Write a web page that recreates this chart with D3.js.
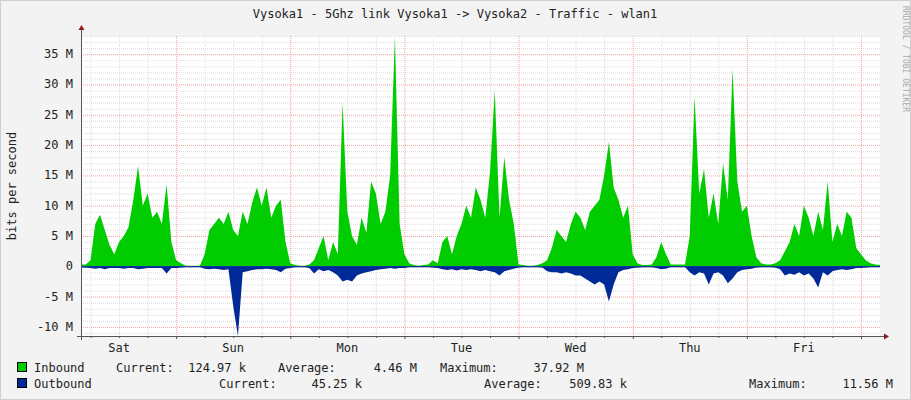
<!DOCTYPE html>
<html><head><meta charset="utf-8">
<script src="https://cdn.jsdelivr.net/npm/d3@7"></script>
<style>body{margin:0;background:#f3f3f3}svg{display:block}</style>
</head><body><svg id="c" width="911" height="400"></svg>
<script>
// hourly values in M bits/s, starting Sat 04:00
const startHour = 4;
const inbound = [
0.3,0.3,1,7,8.5,6,3.5,2,4,5,6.5,11,16.5,10,12,8,9,7,13.5,4,
1,0.5,0.1,0.1,0.1,0.1,2,6,7,8,7,9,6,5,9,7,10.5,13,10,13,8,10,11,4,
0.5,0.2,0.1,0.1,0.3,1,3,5,1,4,2,27,9,5,3.5,8,5.5,14,12,7,9,15,37.9,7,
2,0.5,0.2,0.1,0.2,0.3,1,0.5,4,5,2,5,7,10,8,13,11,8,15.5,29,8,18,11,7,
0.3,0.2,0.1,0.1,0.2,0.5,1,3,6,5,4,7,9,8,6,9,10,11,15,20.5,13,11,8,10,
2,0.5,0.2,0.2,0.3,1.5,4,2,0.3,0.3,0.3,0.3,5,28,12,16,8,12,7,17,11,32.5,14,9,
10,5,1.5,0.5,0.3,0.3,0.5,1,2.5,4,7,5,10,8,5,9,6,14,4,7,5,9,8,3,
2,1,0.5,0.3,0.2];
const outbound = [
0.2,0.2,0.3,0.4,0.3,0.5,0.3,0.3,0.3,0.4,0.3,0.3,0.5,0.4,0.3,0.3,0.3,0.3,1.2,0.3,
0.3,0.2,0.1,0.1,0.1,0.1,0.4,0.5,0.4,0.5,0.6,0.5,6.5,11.5,1,0.8,0.6,0.5,0.5,0.4,0.5,0.6,1,0.4,
0.3,0.1,0.1,0.1,0.3,1.2,0.5,0.8,0.6,1,1.5,2.5,2.2,2.5,1.5,1.2,1,0.8,0.6,0.5,0.4,0.3,0.4,0.3,
0.3,0.1,0.1,0.1,0.1,0.1,0.2,0.3,0.5,0.6,0.5,0.7,0.5,0.6,0.5,0.6,0.8,0.6,0.8,1,1.5,0.8,0.6,0.4,
0.2,0.1,0.1,0.1,0.1,0.2,0.8,1,1,1.2,1,1.2,1.5,1.5,2,2.5,3,2.5,3,5.8,3,1,0.6,0.5,
0.3,0.2,0.1,0.1,0.1,0.3,0.5,0.4,0.1,0.1,0.1,0.1,1,1.5,1,1.2,3,1.2,1,1.5,2.8,2,1,0.6,
0.5,0.4,0.2,0.1,0.1,0.1,0.2,0.5,1.5,1.2,1.4,1,1.5,1.2,2,3.5,1,1.5,0.8,0.6,0.5,0.6,0.5,0.3,
0.3,0.2,0.1,0.1,0.1];
const yTicks = [-10,-5,0,5,10,15,20,25,30,35];
const dayLabels = ["Sat","Sun","Mon","Tue","Wed","Thu","Fri"];
const legendNames = ["Inbound","Outbound"];
const legendColors = ["#00cc00","#002a97"];
const legendCurrent = ["124.97 k","45.25 k"];
const legendAverage = ["4.46 M","509.83 k"];
const legendMaximum = ["37.92 M","11.56 M"];

const svg = d3.select("#c");
const F = "DejaVu Sans Mono, monospace";
svg.append("rect").attr("x",0.5).attr("y",0.5).attr("width",910).attr("height",399).attr("fill","#f3f3f3").attr("stroke","#cfcfcf");
const x = d3.scaleLinear().domain([startHour, startHour+inbound.length-1]).range([81,880]);
const y = d3.scaleLinear().domain([-11.5,38]).range([336,36]);
const L=81,R=880,T=36,B=336;
svg.append("rect").attr("x",L).attr("y",T).attr("width",R-L).attr("height",B-T).attr("fill","#fff");
const g = svg.append("g");
d3.range(-11,39).forEach(v=>{ if(v%5) g.append("line").attr("x1",L).attr("x2",R).attr("y1",y(v)+0.5).attr("y2",y(v)+0.5).attr("stroke","#ddd").attr("stroke-dasharray","1,1");});
d3.range(6,172,6).forEach(h=>{ if(h<startHour||h%24===0) return; g.append("line").attr("x1",x(h)+0.5).attr("x2",x(h)+0.5).attr("y1",T).attr("y2",B).attr("stroke","#ddd").attr("stroke-dasharray","1,1");});
d3.range(24,172,24).forEach(h=>g.append("line").attr("x1",x(h)+0.5).attr("x2",x(h)+0.5).attr("y1",T).attr("y2",B).attr("stroke","#f4a0a0").attr("stroke-dasharray","1,1"));
yTicks.forEach(v=>{ g.append("line").attr("x1",L).attr("x2",R).attr("y1",y(v)+0.5).attr("y2",y(v)+0.5).attr("stroke","#f4a0a0").attr("stroke-dasharray","1,1");
  svg.append("text").attr("x",73).attr("y",y(v)+4).attr("text-anchor","end").attr("font-family",F).attr("font-size",12).attr("fill","#222").text(v===0?"0":v+" M");});
const idx = inbound.map((d,i)=>i);
svg.append("path").datum(idx).attr("fill","#00cc00").attr("d",d3.area().x(i=>x(startHour+i)).y0(y(0)).y1(i=>y(inbound[i])));
svg.append("path").datum(idx).attr("fill","#002a97").attr("d",d3.area().x(i=>x(startHour+i)).y0(y(0)).y1(i=>y(-outbound[i])));
svg.append("line").attr("x1",L).attr("x2",R).attr("y1",y(0)+0.5).attr("y2",y(0)+0.5).attr("stroke","#002a97");
svg.append("line").attr("x1",L+0.5).attr("x2",L+0.5).attr("y1",B+4).attr("y2",T-6).attr("stroke","#555");
svg.append("line").attr("x1",L-4).attr("x2",R+4).attr("y1",B+0.5).attr("y2",B+0.5).attr("stroke","#555");
svg.append("path").attr("d",`M${L-2.5},${T-6}L${L+3.5},${T-6}L${L+0.5},${T-11}Z`).attr("fill","#8b1a1a");
svg.append("path").attr("d",`M${R+4},${B-2.5}L${R+4},${B+3.5}L${R+9},${B+0.5}Z`).attr("fill","#8b1a1a");
d3.range(6,172,6).forEach(h=>{ if(h<startHour) return; svg.append("line").attr("x1",x(h)+0.5).attr("x2",x(h)+0.5).attr("y1",B).attr("y2",B+(h%24?2:3)).attr("stroke","#555");});
dayLabels.forEach((d,i)=>svg.append("text").attr("x",x(12+24*i)).attr("y",352).attr("text-anchor","middle").attr("font-family",F).attr("font-size",12).attr("fill","#222").text(d));
svg.append("text").attr("x",455).attr("y",18).attr("text-anchor","middle").attr("font-family",F).attr("font-size",12).attr("fill","#222").text("Vysoka1 - 5Ghz link Vysoka1 -> Vysoka2 - Traffic - wlan1");
svg.append("text").attr("transform","translate(16,186) rotate(-90)").attr("text-anchor","middle").attr("font-family",F).attr("font-size",12).attr("fill","#222").text("bits per second");
svg.append("text").attr("transform","translate(903,6) rotate(90)").attr("font-family",F).attr("font-size",8).attr("fill","#aaa").text("RRDTOOL / TOBI OETIKER");
const lt=(x0,y0,t,a)=>svg.append("text").attr("x",x0).attr("y",y0).attr("text-anchor",a||"start").attr("font-family",F).attr("font-size",12).attr("fill","#222").text(t);
const pos = [
 {cur:116,curE:246,avg:278,avgE:417,max:440,maxE:584},
 {cur:219,curE:362,avg:484,avgE:627,max:749,maxE:893}];
legendNames.forEach((n,i)=>{ const yy=372+i*16, p=pos[i];
  svg.append("rect").attr("x",17.5).attr("y",yy-9.5).attr("width",9).attr("height",9).attr("fill",legendColors[i]).attr("stroke","#000");
  lt(34,yy,n);
  lt(p.cur,yy,"Current:"); lt(p.curE,yy,legendCurrent[i],"end");
  lt(p.avg,yy,"Average:"); lt(p.avgE,yy,legendAverage[i],"end");
  lt(p.max,yy,"Maximum:"); lt(p.maxE,yy,legendMaximum[i],"end");
});
</script></body></html>
